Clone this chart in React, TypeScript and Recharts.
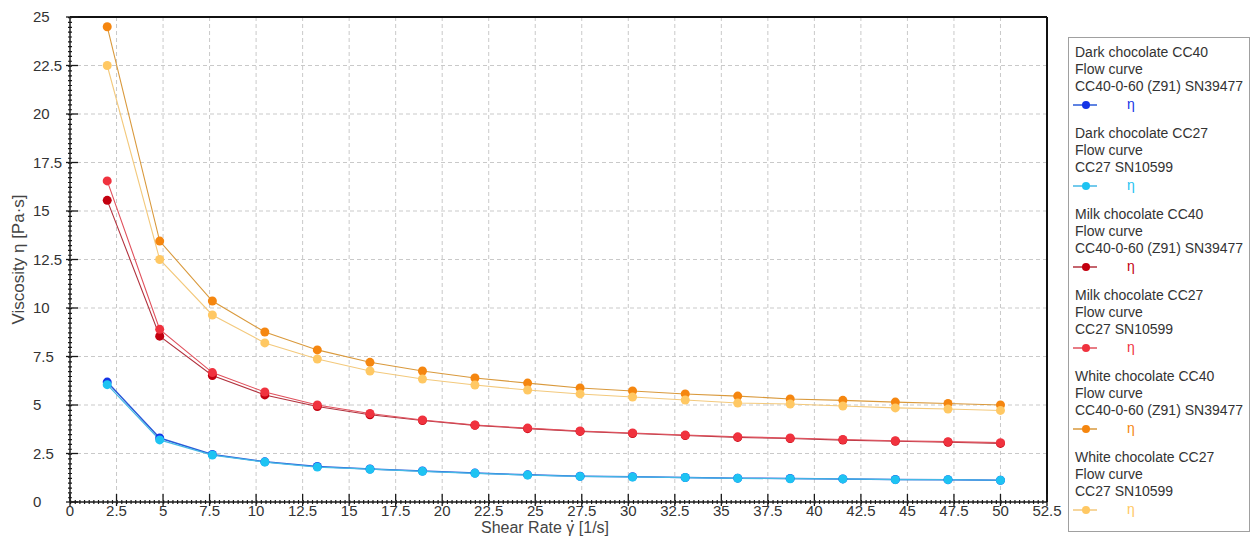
import { LineChart, Line, XAxis, YAxis, CartesianGrid } from "recharts";

// shear rate points [1/s]
const shearRate = [2, 4.82, 7.65, 10.47, 13.29, 16.12, 18.94, 21.76, 24.59, 27.41, 30.23, 33.06, 35.88, 38.7, 41.53, 44.35, 47.18, 50];

// viscosity [Pa·s]
const darkCC40 = [6.18, 3.3, 2.45, 2.07, 1.83, 1.7, 1.6, 1.49, 1.4, 1.33, 1.3, 1.26, 1.23, 1.21, 1.19, 1.16, 1.15, 1.12];
const darkCC27 = [6.05, 3.2, 2.42, 2.06, 1.8, 1.69, 1.58, 1.48, 1.39, 1.32, 1.29, 1.26, 1.22, 1.2, 1.19, 1.15, 1.15, 1.12];
const milkCC40 = [15.55, 8.55, 6.52, 5.52, 4.92, 4.5, 4.2, 3.95, 3.78, 3.64, 3.53, 3.43, 3.33, 3.27, 3.19, 3.13, 3.08, 3.02];
const milkCC27 = [16.55, 8.9, 6.67, 5.67, 5.0, 4.56, 4.23, 3.97, 3.81, 3.66, 3.56, 3.45, 3.36, 3.3, 3.22, 3.16, 3.11, 3.06];
const whiteCC40 = [24.5, 13.45, 10.36, 8.76, 7.84, 7.2, 6.75, 6.39, 6.13, 5.88, 5.72, 5.57, 5.46, 5.31, 5.24, 5.15, 5.08, 5.0];
const whiteCC27 = [22.5, 12.5, 9.64, 8.2, 7.37, 6.75, 6.34, 6.03, 5.77, 5.57, 5.41, 5.26, 5.1, 5.05, 4.95, 4.85, 4.79, 4.72];

const xTicks = [0, 2.5, 5, 7.5, 10, 12.5, 15, 17.5, 20, 22.5, 25, 27.5, 30, 32.5, 35, 37.5, 40, 42.5, 45, 47.5, 50, 52.5];
const yTicks = [0, 2.5, 5, 7.5, 10, 12.5, 15, 17.5, 20, 22.5, 25];
const X_MAX = 52.5;
const Y_MAX = 25;

const series = [
  { key: "darkCC40", title: ["Dark chocolate CC40", "Flow curve", "CC40-0-60 (Z91) SN39477"], dot: "#1434e6", line: "#2a5ad8", width: 1.5 },
  { key: "darkCC27", title: ["Dark chocolate CC27", "Flow curve", "CC27 SN10599"], dot: "#1ec3f2", line: "#45b9e6", width: 1.2 },
  { key: "milkCC40", title: ["Milk chocolate CC40", "Flow curve", "CC40-0-60 (Z91) SN39477"], dot: "#c3000f", line: "#b2323e", width: 1.1 },
  { key: "milkCC27", title: ["Milk chocolate CC27", "Flow curve", "CC27 SN10599"], dot: "#f0323e", line: "#e0505c", width: 1.1 },
  { key: "whiteCC40", title: ["White chocolate CC40", "Flow curve", "CC40-0-60 (Z91) SN39477"], dot: "#f5860f", line: "#d9993c", width: 1.1 },
  { key: "whiteCC27", title: ["White chocolate CC27", "Flow curve", "CC27 SN10599"], dot: "#ffc863", line: "#f3c97c", width: 1.1 },
];

const data = shearRate.map((x, i) => ({
  x,
  darkCC40: darkCC40[i],
  darkCC27: darkCC27[i],
  milkCC40: milkCC40[i],
  milkCC27: milkCC27[i],
  whiteCC40: whiteCC40[i],
  whiteCC27: whiteCC27[i],
}));

const FONT = "'Liberation Sans', Arial, sans-serif";
const TICK = "#1a1a1a";

function XTick({ x, y, payload }: any) {
  return (
    <g>
      <path d={`M${x},${y - 1}V${y - 8}`} stroke={TICK} strokeWidth={1.3} fill="none" />
      <path d={`M${x},${y}V${y + 4}`} stroke={TICK} strokeWidth={1.3} fill="none" />
      <text x={x} y={y + 14} textAnchor="middle" fontSize={15} fill="#333" fontFamily={FONT}>
        {payload.value}
      </text>
    </g>
  );
}

function YTick({ x, y, payload }: any) {
  return (
    <g>
      <path d={`M${x + 1},${y}H${x + 8}`} stroke={TICK} strokeWidth={1.3} fill="none" />
      <path d={`M${x - 4},${y}H${x}`} stroke={TICK} strokeWidth={1.3} fill="none" />
      <text x={33} y={y} dy={5} textAnchor="start" fontSize={15} fill="#333" fontFamily={FONT}>
        {payload.value}
      </text>
    </g>
  );
}

function XTitle() {
  // dot over gamma drawn separately, combining mark does not render
  return (
    <g fontFamily={FONT} fill="#444" fontSize={16}>
      <text x={545} y={533} textAnchor="middle">
        Shear Rate γ [1/s]
      </text>
      <circle cx={572} cy={521} r={1.1} fill="#444" />
    </g>
  );
}

function YTitle({ viewBox }: any) {
  const cy = viewBox.y + viewBox.height / 2;
  return (
    <text x={18} y={cy} transform={`rotate(-90 18 ${cy})`} textAnchor="middle" dominantBaseline="central" fontSize={17} fill="#444" fontFamily={FONT}>
      Viscosity η [Pa·s]
    </text>
  );
}

function LegendBox() {
  return (
    <div
      style={{
        position: "absolute",
        left: 1068,
        top: 37,
        width: 174,
        height: 487,
        border: "1px solid #a0a0a0",
        padding: "6px 0 0 6px",
        boxSizing: "content-box",
        fontFamily: FONT,
        fontSize: 14,
        lineHeight: "17px",
        color: "#333",
        background: "#fff",
      }}
    >
      {series.map((s) => (
        <div key={s.key} style={{ height: 81 }}>
          {s.title.map((t) => (
            <div key={t} style={{ whiteSpace: "nowrap" }}>{t}</div>
          ))}
          <svg width={100} height={20} style={{ display: "block", marginLeft: -6 }}>
            <line x1={4} x2={28} y1={10} y2={10} stroke={s.line} strokeWidth={1.5} />
            <circle cx={17} cy={10} r={4} fill={s.dot} />
            <text x={58} y={14} fontSize={14} fill={s.dot} fontFamily={FONT}>η</text>
          </svg>
        </div>
      ))}
    </div>
  );
}

export default function App() {
  return (
    <div style={{ position: "absolute", left: 0, top: 0, width: 1251, height: 537, background: "#fff" }}>
      <LineChart width={1068} height={537} data={data} margin={{ top: 17, right: 21, bottom: 0, left: 0 }}>
        <CartesianGrid strokeDasharray="4 3" stroke="#c9c9c9" />
        <XAxis
          dataKey="x"
          type="number"
          domain={[0, X_MAX]}
          ticks={xTicks}
          interval={0}
          height={35}
          tickSize={0}
          tickMargin={0}
          axisLine={{ stroke: "#222", strokeWidth: 1.5 }}
          tickLine={false}
          tick={XTick}
          allowDataOverflow
          label={<XTitle />}
        />
        {/* minor tick comb: a dashed, thick axis line, one dash per 0.25 */}
        <XAxis
          xAxisId="comb"
          dataKey="x"
          type="number"
          domain={[0, X_MAX]}
          height={1}
          mirror
          tickFormatter={() => ""}
          tickLine={false}
          axisLine={{ stroke: TICK, strokeWidth: 4, strokeDasharray: "1.2 3.452" }}
        />
        <XAxis
          xAxisId="top"
          orientation="top"
          dataKey="x"
          type="number"
          domain={[0, X_MAX]}
          height={1}
          mirror
          tickFormatter={() => ""}
          tickLine={false}
          axisLine={{ stroke: "#111", strokeWidth: 2 }}
        />
        <YAxis
          type="number"
          domain={[0, Y_MAX]}
          ticks={yTicks}
          interval={0}
          width={70}
          tickSize={0}
          tickMargin={0}
          axisLine={{ stroke: "#222", strokeWidth: 1.5 }}
          tickLine={false}
          tick={YTick}
          allowDataOverflow
          label={<YTitle />}
        />
        <YAxis
          yAxisId="comb"
          type="number"
          domain={[0, Y_MAX]}
          width={1}
          mirror
          tickFormatter={() => ""}
          tickLine={false}
          axisLine={{ stroke: TICK, strokeWidth: 4, strokeDasharray: "1.2 3.65" }}
        />
        <YAxis
          yAxisId="right"
          orientation="right"
          type="number"
          domain={[0, Y_MAX]}
          width={1}
          mirror
          tickFormatter={() => ""}
          tickLine={false}
          axisLine={{ stroke: "#111", strokeWidth: 2 }}
        />
        {series.map((s) => (
          <Line
            key={s.key}
            type="linear"
            dataKey={s.key}
            name={s.title[0]}
            stroke={s.line}
            strokeWidth={s.width}
            dot={{ r: 4.5, fill: s.dot, stroke: s.dot, strokeWidth: 0 }}
            activeDot={false}
            isAnimationActive={false}
          />
        ))}
      </LineChart>
      <LegendBox />
    </div>
  );
}
